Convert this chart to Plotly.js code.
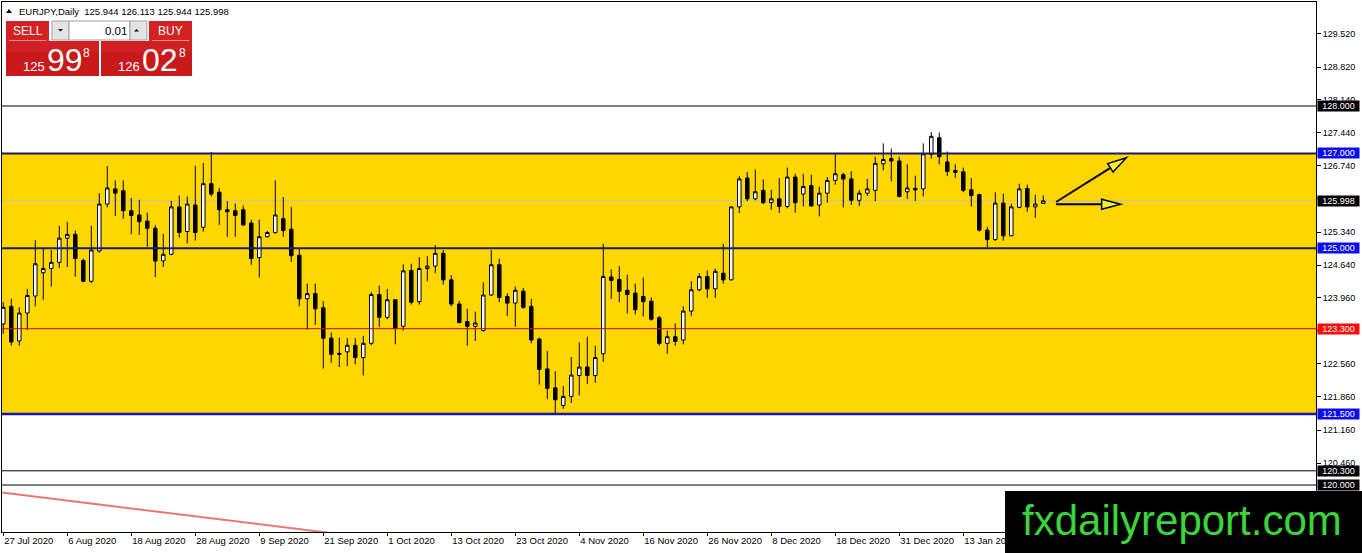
<!DOCTYPE html>
<html><head><meta charset="utf-8">
<script src="https://cdn.plot.ly/plotly-3.0.1.min.js"></script>
<style>html,body{margin:0;padding:0;background:#fff;overflow:hidden}#chart{width:1362px;height:553px}</style>
</head><body><div id="chart"></div>
<script>
// ---------- data ----------
const tickIndex  = [0, 8, 16, 24, 32, 40, 48, 56, 64, 72, 80, 88, 96, 104, 112, 120];
const tickLabels = ['27 Jul 2020','6 Aug 2020','18 Aug 2020','28 Aug 2020','9 Sep 2020','21 Sep 2020',
  '1 Oct 2020','13 Oct 2020','23 Oct 2020','4 Nov 2020','16 Nov 2020','26 Nov 2020','8 Dec 2020',
  '18 Dec 2020','31 Dec 2020','13 Jan 2021'];

const openP = [123.40,123.77,123.04,123.63,123.99,124.48,124.57,124.70,125.21,125.29,
  124.74,124.30,124.94,125.93,126.25,126.21,125.79,125.70,125.57,125.42,
  124.73,124.87,125.87,125.35,125.91,125.44,126.36,126.18,125.81,125.79,
  125.81,125.53,124.80,125.24,125.33,125.62,125.40,124.85,123.93,124.04,
  123.74,123.10,122.78,122.81,122.95,122.69,122.99,124.02,123.54,123.91,
  123.35,124.53,123.87,124.57,124.62,124.89,124.33,123.82,123.45,123.35,
  123.26,124.01,124.65,123.98,123.84,124.09,123.77,123.08,122.45,122.05,
  121.68,121.87,122.31,122.49,122.31,122.77,124.39,124.34,124.11,124.05,
  123.98,123.88,123.53,122.99,123.13,123.06,123.67,124.12,124.40,124.14,
  124.47,124.33,125.87,126.48,126.04,126.22,125.96,126.04,125.88,126.50,
  126.14,126.32,125.91,126.16,126.43,126.55,126.46,126.01,126.16,126.22,
  126.78,126.89,126.84,126.19,126.26,126.25,126.98,127.33,126.82,126.64,
  126.61,126.23,126.13,125.38,125.18,125.95,125.26,125.86,126.26,125.87,
  125.944];
const highP = [123.86,123.93,123.75,124.14,125.17,124.99,124.96,125.47,125.56,125.37,
  124.78,125.47,126.16,126.73,126.43,126.43,126.06,126.02,125.75,125.49,
  125.30,126.00,126.11,126.09,126.74,126.80,127.03,126.27,125.99,125.94,
  125.90,125.60,125.60,125.36,126.43,126.08,125.87,124.99,124.25,124.25,
  123.88,123.22,123.11,123.10,123.10,123.15,124.07,124.21,124.14,123.92,
  124.66,124.67,124.81,124.83,125.06,124.96,124.43,123.89,123.72,123.66,
  124.28,124.96,124.78,124.05,124.19,124.16,123.93,123.11,122.83,122.40,
  122.09,122.70,123.01,123.13,122.94,125.09,124.55,124.62,124.44,124.25,
  124.38,123.96,123.57,123.26,123.41,123.77,124.30,124.47,124.53,124.57,
  125.09,125.88,126.52,126.61,126.66,126.45,126.23,126.48,126.70,126.57,
  126.57,126.55,126.30,126.50,127.01,126.59,126.62,126.23,126.46,126.93,
  127.21,127.10,126.93,126.77,126.53,127.21,127.45,127.44,127.04,126.77,
  126.70,126.48,126.15,125.45,126.18,126.15,125.94,126.36,126.34,126.13,
  126.113];
const lowP = [123.19,122.94,122.94,123.27,123.77,123.91,124.19,124.58,124.60,124.40,
  124.28,124.26,124.90,125.86,125.68,125.62,125.29,125.28,125.03,124.39,
  124.60,124.85,125.22,125.10,125.16,125.35,126.09,125.49,125.24,125.24,
  125.47,124.65,124.38,125.22,125.30,125.24,124.71,123.77,123.28,123.38,
  122.46,122.58,122.49,122.51,122.55,122.31,122.95,123.33,123.50,122.97,
  123.26,123.81,123.81,124.30,124.47,124.23,123.77,123.41,122.94,123.04,
  123.24,123.99,123.86,123.57,123.34,123.72,122.99,122.12,121.81,121.52,
  121.61,121.73,121.89,122.13,122.16,122.60,123.93,123.86,123.62,123.60,
  123.56,123.47,122.94,122.77,122.94,122.97,123.57,124.09,123.95,123.95,
  124.25,124.32,125.74,125.99,126.01,125.93,125.81,125.74,125.84,125.75,
  125.88,125.88,125.67,125.96,126.34,125.86,125.91,125.89,126.10,125.99,
  126.64,126.41,126.07,126.04,126.00,126.09,126.89,126.77,126.52,126.48,
  126.18,125.88,125.35,125.01,125.15,125.16,125.26,125.84,125.77,125.64,
  125.944];
const closeP = [123.75,123.02,123.63,124.00,124.67,124.57,124.70,125.21,125.29,124.78,
  124.30,124.96,125.93,126.27,126.16,125.79,125.69,125.56,125.42,124.73,
  124.87,125.87,125.33,125.93,125.33,126.36,126.14,125.81,125.77,125.69,
  125.49,124.78,125.24,125.33,125.70,125.37,124.84,123.93,124.04,123.72,
  123.10,122.76,122.76,122.95,122.69,122.99,124.02,123.54,123.91,123.30,
  124.52,123.86,124.57,124.62,124.89,124.33,123.82,123.43,123.35,123.42,
  124.01,124.65,123.96,123.84,124.11,123.75,123.06,122.44,122.04,121.80,
  121.87,122.32,122.49,122.31,122.69,124.40,124.32,124.09,124.02,123.70,
  123.87,123.50,122.99,123.13,123.03,123.67,124.12,124.40,124.14,124.51,
  124.33,125.87,126.46,126.04,126.19,125.96,126.04,125.88,126.50,125.96,
  126.30,125.89,126.16,126.43,126.57,126.46,126.01,126.16,126.25,126.79,
  126.87,126.84,126.09,126.27,126.23,126.99,127.36,126.93,126.62,126.60,
  126.22,126.11,125.38,125.18,125.95,125.26,125.87,126.25,125.87,125.93,
  125.998];

const yTickValues = [129.52,128.82,128.14,127.44,126.74,126.04,125.34,124.64,123.96,123.26,122.56,121.86,121.16,120.46];
const yTickLabels = yTickValues.map(v => v.toFixed(3));

const levelPrices = [128.000, 127.000, 125.998, 125.000, 123.300, 121.500, 120.300, 120.000];
const levelLabels = levelPrices.map(v => v.toFixed(3));
const zoneTop = 127.0, zoneBottom = 121.5;

const trendX = [-0.16, 60];
const trendY = [119.84, 118.59];

const arrowFromX = [131.6, 131.6], arrowFromY = [125.974, 125.925];
const arrowToX   = [140.4, 139.67], arrowToY   = [126.909, 125.925];

const symbolText = 'EURJPY,Daily';
const quoteValues = ['125.944', '126.113', '125.944', '125.998'];
const bidParts = ['125', '99', '8'];
const askParts = ['126', '02', '8'];
const lotText = '0.01';
const logoText = 'fxdailyreport.com';

// ---------- styles / layout helpers ----------
const W = 1362, H = 553, ML = 2, MR = 46, MT = 2, MB = 21;
const PW = W - ML - MR, PH = H - MT - MB;
const PX = x => (x - ML) / PW;
const PY = y => (H - MB - y) / PH;
const xRange = [-0.16, -0.16 + PW / 8];
const yRange = [119.008, 119.008 + PH / 47.375];
const pxPerX = 8, pxPerY = 47.375;

const levelStyle = [
  {line:'#000000', w:1, bg:'#000000', layer:'above'},
  {line:'#1c1a72', w:2, bg:'#0c0cf0', layer:'above'},
  {line:'#c0c0c0', w:1, bg:'#000000', layer:'below'},
  {line:'#1c1a72', w:2, bg:'#0c0cf0', layer:'above'},
  {line:'#e00000', w:1, bg:'#ff0a0a', layer:'above'},
  {line:'#1616b8', w:2.5, bg:'#0c0cf0', layer:'above'},
  {line:'#000000', w:1, bg:'#000000', layer:'above'},
  {line:'#000000', w:1, bg:'#000000', layer:'above'}
];

const FONT = 'Liberation Sans, Arial, sans-serif';
const shapes = [];
const annotations = [];

// yellow zone
shapes.push({type:'rect', xref:'paper', yref:'y', x0:0, x1:1, y0:zoneBottom, y1:zoneTop,
  fillcolor:'#ffd700', line:{width:0}, layer:'below'});

// horizontal levels + labels
levelPrices.forEach((p, i) => {
  const s = levelStyle[i];
  shapes.push({type:'line', xref:'paper', yref:'y', x0:0, x1:1, y0:p, y1:p,
    line:{color:s.line, width:s.w}, layer:s.layer});
  annotations.push({xref:'paper', x:1, xanchor:'left', xshift:1, yref:'y', y:p, yanchor:'middle',
    text:levelLabels[i], showarrow:false, bgcolor:s.bg, borderpad:0, width:41, height:10,
    align:'center', font:{family:FONT, size:9, color:'#ffffff'}});
});

// trend line
shapes.push({type:'line', xref:'x', yref:'y', x0:trendX[0], y0:trendY[0], x1:trendX[1], y1:trendY[1],
  line:{color:'#e87878', width:2}, layer:'above'});

// arrows
arrowFromX.forEach((fx, i) => {
  const fy = arrowFromY[i], tx = arrowToX[i], ty = arrowToY[i];
  const dx = (tx - fx) * pxPerX, dy = (ty - fy) * pxPerY;
  const len = Math.hypot(dx, dy), ux = dx / len, uy = dy / len;
  const L = 19, Wd = 5;
  const bx = tx - L * ux / pxPerX, by = ty - L * uy / pxPerY;
  const c1x = bx - Wd * uy / pxPerX, c1y = by + Wd * ux / pxPerY;
  const c2x = bx + Wd * uy / pxPerX, c2y = by - Wd * ux / pxPerY;
  shapes.push({type:'line', xref:'x', yref:'y', x0:fx, y0:fy, x1:bx, y1:by,
    line:{color:'#000', width:2}, layer:'above'});
  shapes.push({type:'path', xref:'x', yref:'y',
    path:`M ${tx},${ty} L ${c1x},${c1y} L ${c2x},${c2y} Z`,
    fillcolor:'#f6ee3a', line:{color:'#000', width:1.5}, layer:'above'});
});

// pixel-based helpers for the trading panel
function rect(x0, y0, x1, y1, fill, lc, lw) {
  shapes.push({type:'rect', xref:'paper', yref:'paper', x0:PX(x0), x1:PX(x1), y0:PY(y1), y1:PY(y0),
    fillcolor:fill, line:{color:lc || fill, width:lw == null ? 0 : lw}, layer:'above'});
}
function tri(pts, fill) {
  const d = 'M ' + pts.map(p => PX(p[0]) + ',' + PY(p[1])).join(' L ') + ' Z';
  shapes.push({type:'path', xref:'paper', yref:'paper', path:d, fillcolor:fill, line:{width:0}, layer:'above'});
}
function txt(t, x, y, size, color, xanchor, family) {
  annotations.push({xref:'paper', yref:'paper', x:PX(x), y:PY(y), xanchor:xanchor || 'center', yanchor:'middle',
    text:t, showarrow:false, borderpad:0, font:{family:family || FONT, size:size, color:color}});
}

// title line
tri([[6,13],[12,13],[9,9]], '#000');
txt(symbolText + '\u00a0\u00a0' + quoteValues.join(' '), 18, 11.5, 9.5, '#000', 'left');

// buttons
rect(6, 21, 49, 41, '#d42222');
rect(149, 21, 192, 41, '#d42222');
rect(6, 41, 99, 76, '#c8191b');
rect(101, 41, 192, 76, '#c8191b');
rect(6, 41, 99, 52, '#cf2124');
rect(101, 41, 192, 52, '#cf2124');
shapes.push({type:'line', xref:'paper', yref:'paper', x0:PX(9), x1:PX(46), y0:PY(40.5), y1:PY(40.5), line:{color:'#ee9090', width:1}, layer:'above'});
shapes.push({type:'line', xref:'paper', yref:'paper', x0:PX(152), x1:PX(189), y0:PY(40.5), y1:PY(40.5), line:{color:'#ee9090', width:1}, layer:'above'});
rect(52, 21, 69, 40, '#e4e4e4', '#a0a0a0', 1);
rect(69, 21, 130, 40, '#ffffff', '#a0a0a0', 1);
rect(130, 21, 147, 40, '#e4e4e4', '#a0a0a0', 1);
tri([[58,29],[63,29],[60.5,31.5]], '#000');
tri([[134,31.5],[139,31.5],[136.5,29]], '#000');
txt('SELL', 27.5, 31, 12, '#ffffff');
txt('BUY', 170.5, 31, 12, '#ffffff');
txt(lotText, 128, 31, 11.5, '#000', 'right');

// price boxes
txt(bidParts[0], 22, 66.2, 13, '#ffffff', 'left');
txt(bidParts[1], 46, 60, 32, '#ffffff', 'left');
txt(bidParts[2], 82, 52.8, 12, '#ffffff', 'left');
txt(askParts[0], 117, 66.2, 13, '#ffffff', 'left');
txt(askParts[1], 141, 60, 32, '#ffffff', 'left');
txt(askParts[2], 178, 52.8, 12, '#ffffff', 'left');

// logo
shapes.push({type:'rect', xref:'paper', yref:'paper', x0:PX(1005), x1:PX(1362), y0:PY(553), y1:PY(491),
  fillcolor:'#000', line:{width:0}, layer:'above'});
txt(logoText, 1182, 520, 42, '#3bd43b', 'center', 'Liberation Sans, Arial, sans-serif');

// ---------- trace ----------
const barIndex = openP.map((_, i) => i);
const trace = {
  type:'candlestick', x:barIndex, open:openP, high:highP, low:lowP, close:closeP,
  increasing:{fillcolor:'#ffffff', line:{color:'#000000', width:1}},
  decreasing:{fillcolor:'#000000', line:{color:'#000000', width:1}},
  whiskerwidth:0, hoverinfo:'skip', showlegend:false
};

const layout = {
  width:W, height:H, margin:{l:ML, r:MR, t:MT, b:MB, pad:0},
  paper_bgcolor:'#ffffff', plot_bgcolor:'#ffffff', showlegend:false, boxgap:0.38,
  xaxis:{range:xRange, showgrid:false, zeroline:false, showline:true, mirror:true,
    linecolor:'#000', linewidth:1, ticks:'outside', ticklen:3, tickcolor:'#000',
    tickmode:'array', tickvals:tickIndex, ticktext:tickLabels, ticklabelposition:'outside right',
    tickfont:{family:FONT, size:9.5, color:'#000'}, rangeslider:{visible:false}, fixedrange:true},
  yaxis:{range:yRange, side:'right', showgrid:false, zeroline:false, showline:true, mirror:true,
    linecolor:'#000', linewidth:1, ticks:'outside', ticklen:4, tickcolor:'#000',
    tickmode:'array', tickvals:yTickValues, ticktext:yTickLabels,
    tickfont:{family:FONT, size:9, color:'#000'}, fixedrange:true},
  shapes:shapes, annotations:annotations
};

Plotly.newPlot('chart', [trace], layout, {displayModeBar:false, staticPlot:true});
</script></body></html>
